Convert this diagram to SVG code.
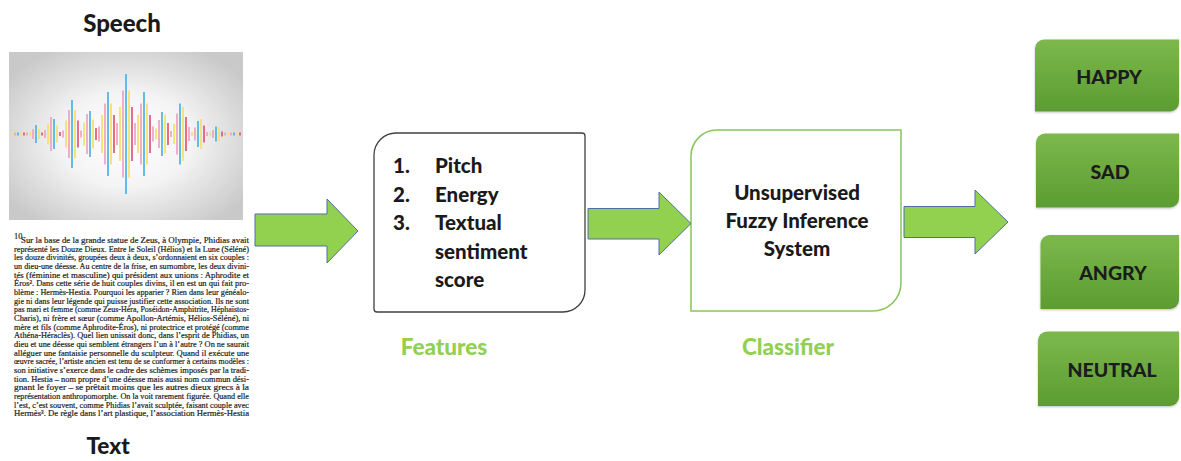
<svg xmlns="http://www.w3.org/2000/svg" width="1181" height="461" viewBox="0 0 1181 461">
  <style>
    .title { font-family: Lato, "Liberation Sans", sans-serif; font-weight: 900; fill: #1a1a1a; text-anchor: middle; }
    .caption { font-family: Lato, "Liberation Sans", sans-serif; font-weight: 900; font-size: 22.5px; fill: #92d050; text-anchor: middle; }
    .item { font-family: Lato, "Liberation Sans", sans-serif; font-weight: 900; font-size: 20.5px; fill: #1a1a1a; }
    .mid { text-anchor: middle; }
    .emo { font-family: Lato, "Liberation Sans", sans-serif; font-weight: 900; font-size: 19.5px; fill: #1c1c1c; text-anchor: middle; }
    .page { font-family: "Liberation Serif", "DejaVu Serif", serif; font-size: 8.3px; fill: #1e1e1e; stroke: #1e1e1e; stroke-width: 0.2; }
    .arrow { fill: #92d050; stroke: #4f6fa0; stroke-width: 1; stroke-linejoin: miter; }
    .wave { fill: none; stroke-width: 1.8; }
    .emo-box { fill: url(#emoFill); filter: url(#lift); }
  </style>
  <defs>
    <radialGradient id="glow" cx="50%" cy="52%" r="62%">
      <stop offset="0" stop-color="#ffffff"/>
      <stop offset="0.45" stop-color="#f4f4f4"/>
      <stop offset="1" stop-color="#c9c9c9"/>
    </radialGradient>
    <linearGradient id="emoFill" x1="0" y1="0" x2="0" y2="1">
      <stop offset="0" stop-color="#7cb84d"/>
      <stop offset="1" stop-color="#5c9c31"/>
    </linearGradient>
    <filter id="lift" x="-5%" y="-10%" width="110%" height="125%">
      <feDropShadow dx="0" dy="1" stdDeviation="1" flood-color="#000" flood-opacity="0.25"/>
    </filter>
  </defs>

  <rect width="1181" height="461" fill="#ffffff"/>

  <!-- speech input -->
  <g id="speech">
    <text class="title" x="122" y="32" font-size="24">Speech</text>
    <rect x="9" y="52" width="234" height="168" fill="url(#glow)"/>
    <path class="wave" stroke="#f3e36a" d="M12 132.5v3M30 132.5v3M48 123.5v21M66 120.5v27M84 122.5v23M102 115v38M120 107v54M138 115v38M156 128.5v11M174 124v20M192 132v4M210 132.5v3M228 132.5v3M21 132.5v3M39 129v10M57 125.5v17M75 110v48M93 119.5v29M111 103.5v61M129 90.5v87M147 103.5v61M165 114.5v39M183 107v54M201 119v30M219 127.5v13M237 132.5v3"/>
    <path class="wave" stroke="#eea6c6" d="M15 132.5v3M33 129v10M51 117v34M69 110v48M87 114v40M105 103.5v61M123 90.5v87M141 103.5v61M159 120v28M177 113.5v41M195 127.5v13M213 130v8M231 132.5v3M27 132.5v3M45 130v8M63 130.5v7M81 130.5v7M99 126.5v15M117 123v22M135 123v22M153 126.5v15M171 131v6M189 127v14M207 132v4M225 132.5v3"/>
    <path class="wave" stroke="#56b4e9" d="M18 132.5v3M36 125v18M54 119v30M72 100v68M90 111v46M108 92v84M126 74v120M144 92v84M162 112v44M180 103.5v61M198 121v26M216 126.5v15M234 132.5v3"/>
    <path class="wave" stroke="#e45f78" d="M24 132.5v3M42 132.5v3M60 132v4M78 120.5v27M96 128v12M114 115v38M132 107v54M150 115v38M168 123v22M186 117v34M204 125.5v17M222 131.5v5M240 132.5v3"/>
  </g>

  <!-- text input: scanned page -->
  <g id="text">
    <text class="page" x="14" y="239" font-size="5">10</text>
    <text class="page" x="21" y="243" textLength="228" lengthAdjust="spacingAndGlyphs">Sur la base de la grande statue de Zeus, à Olympie, Phidias avait</text>
    <text class="page" x="14" y="251.7" textLength="235" lengthAdjust="spacingAndGlyphs">représenté les Douze Dieux. Entre le Soleil (Hélios) et la Lune (Séléné)</text>
    <text class="page" x="14" y="260.3" textLength="235" lengthAdjust="spacingAndGlyphs">les douze divinités, groupées deux à deux, s’ordonnaient en six couples :</text>
    <text class="page" x="14" y="269" textLength="235" lengthAdjust="spacingAndGlyphs">un dieu-une déesse. Au centre de la frise, en surnombre, les deux divini-</text>
    <text class="page" x="14" y="277.7" textLength="235" lengthAdjust="spacingAndGlyphs">tés (féminine et masculine) qui président aux unions : Aphrodite et</text>
    <text class="page" x="14" y="286.3" textLength="235" lengthAdjust="spacingAndGlyphs">Éros². Dans cette série de huit couples divins, il en est un qui fait pro-</text>
    <text class="page" x="14" y="295" textLength="235" lengthAdjust="spacingAndGlyphs">blème : Hermès-Hestia. Pourquoi les apparier ? Rien dans leur généalo-</text>
    <text class="page" x="14" y="303.7" textLength="235" lengthAdjust="spacingAndGlyphs">gie ni dans leur légende qui puisse justifier cette association. Ils ne sont</text>
    <text class="page" x="14" y="312.3" textLength="235" lengthAdjust="spacingAndGlyphs">pas mari et femme (comme Zeus-Héra, Poséidon-Amphitrite, Héphaïstos-</text>
    <text class="page" x="14" y="321" textLength="235" lengthAdjust="spacingAndGlyphs">Charis), ni frère et sœur (comme Apollon-Artémis, Hélios-Séléné), ni</text>
    <text class="page" x="14" y="329.7" textLength="235" lengthAdjust="spacingAndGlyphs">mère et fils (comme Aphrodite-Éros), ni protectrice et protégé (comme</text>
    <text class="page" x="14" y="338.3" textLength="235" lengthAdjust="spacingAndGlyphs">Athéna-Héraclès). Quel lien unissait donc, dans l’esprit de Phidias, un</text>
    <text class="page" x="14" y="347" textLength="235" lengthAdjust="spacingAndGlyphs">dieu et une déesse qui semblent étrangers l’un à l’autre ? On ne saurait</text>
    <text class="page" x="14" y="355.7" textLength="235" lengthAdjust="spacingAndGlyphs">alléguer une fantaisie personnelle du sculpteur. Quand il exécute une</text>
    <text class="page" x="14" y="364.3" textLength="235" lengthAdjust="spacingAndGlyphs">œuvre sacrée, l’artiste ancien est tenu de se conformer à certains modèles :</text>
    <text class="page" x="14" y="373" textLength="235" lengthAdjust="spacingAndGlyphs">son initiative s’exerce dans le cadre des schèmes imposés par la tradi-</text>
    <text class="page" x="14" y="381.7" textLength="235" lengthAdjust="spacingAndGlyphs">tion. Hestia – nom propre d’une déesse mais aussi nom commun dési-</text>
    <text class="page" x="14" y="390.3" textLength="235" lengthAdjust="spacingAndGlyphs">gnant le foyer – se prêtait moins que les autres dieux grecs à la</text>
    <text class="page" x="14" y="399" textLength="235" lengthAdjust="spacingAndGlyphs">représentation anthropomorphe. On la voit rarement figurée. Quand elle</text>
    <text class="page" x="14" y="407.7" textLength="235" lengthAdjust="spacingAndGlyphs">l’est, c’est souvent, comme Phidias l’avait sculptée, faisant couple avec</text>
    <text class="page" x="14" y="416.3" textLength="235" lengthAdjust="spacingAndGlyphs">Hermès³. De règle dans l’art plastique, l’association Hermès-Hestia</text>
    <text class="title" x="108" y="454" font-size="22.5">Text</text>
  </g>

  <!-- feature extraction -->
  <g id="features">
    <path d="M374 155A22 22 0 0 1 396 133H582A3 3 0 0 1 585 136V290A22 22 0 0 1 563 312H377A3 3 0 0 1 374 309Z" fill="#ffffff" stroke="#404040" stroke-width="1.3"/>
    <text class="item" x="393" y="173">1.</text>
    <text class="item" x="435" y="173">Pitch</text>
    <text class="item" x="393" y="201.5">2.</text>
    <text class="item" x="435" y="201.5">Energy</text>
    <text class="item" x="393" y="230">3.</text>
    <text class="item" x="435" y="230">Textual</text>
    <text class="item" x="435" y="258.5">sentiment</text>
    <text class="item" x="435" y="287">score</text>
    <text class="caption" x="444" y="355">Features</text>
  </g>

  <!-- classifier -->
  <g id="classifier">
    <path d="M691 156A26 26 0 0 1 717 130H901V283A28 28 0 0 1 873 311H691Z" fill="#ffffff" stroke="#86c55a" stroke-width="1.5"/>
    <text class="item mid" x="797" y="200">Unsupervised</text>
    <text class="item mid" x="797" y="228">Fuzzy Inference</text>
    <text class="item mid" x="797" y="256">System</text>
    <text class="caption" x="788" y="355">Classifier</text>
  </g>

  <!-- emotion classes -->
  <g id="happy">
    <path class="emo-box" d="M1035 48.5A9 9 0 0 1 1044 39.5H1179V102.5A9 9 0 0 1 1170 111.5H1035Z"/>
    <text class="emo" x="1109" y="83.5">HAPPY</text>
  </g>
  <g id="sad">
    <path class="emo-box" d="M1036 142.5A9 9 0 0 1 1045 133.5H1179V198.5A9 9 0 0 1 1170 207.5H1036Z"/>
    <text class="emo" x="1110" y="179">SAD</text>
  </g>
  <g id="angry">
    <path class="emo-box" d="M1040.5 244A9 9 0 0 1 1049.5 235H1179V300A9 9 0 0 1 1170 309H1040.5Z"/>
    <text class="emo" x="1113" y="280">ANGRY</text>
  </g>
  <g id="neutral">
    <path class="emo-box" d="M1038 340.5A9 9 0 0 1 1047 331.5H1179V397A9 9 0 0 1 1170 406H1038Z"/>
    <text class="emo" x="1112" y="377">NEUTRAL</text>
  </g>

  <!-- block arrows between stages -->
  <g id="connectors">
    <polygon class="arrow" points="255,214 327,214 327,199 358,231 327,263 327,246 255,246"/>
    <polygon class="arrow" points="588,208.5 659,208.5 659,192 691,223.5 659,255 659,239 588,239"/>
    <polygon class="arrow" points="904,206.5 975,206.5 975,190 1008,222 975,254 975,237.5 904,237.5"/>
  </g>
</svg>
